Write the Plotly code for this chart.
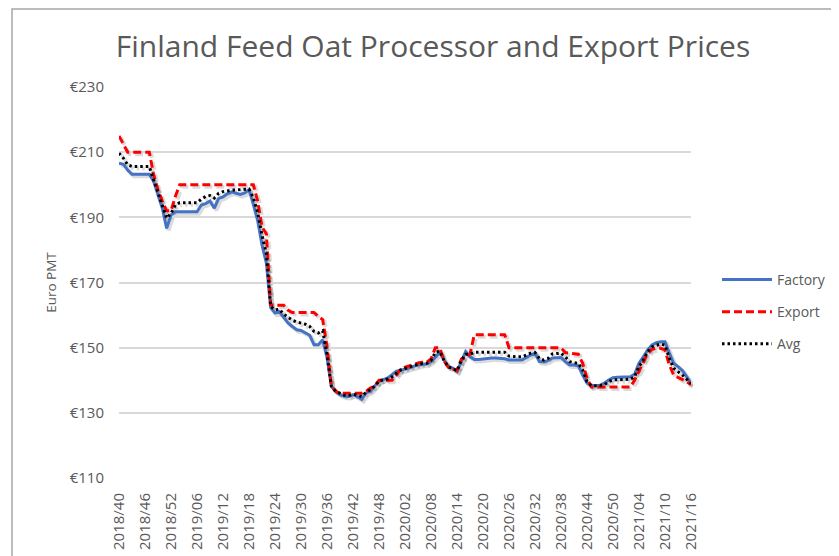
import plotly.graph_objects as go

# Weekly categories 2018/40 .. 2021/16 (52-week years as in the source)
weeks = []
for y, w0, w1 in [(2018, 40, 52), (2019, 1, 52), (2020, 1, 52), (2021, 1, 16)]:
    for w in range(w0, w1 + 1):
        weeks.append(f"{y}/{w:02d}")

tick_labels = ["2018/40", "2018/46", "2018/52", "2019/06", "2019/12", "2019/18",
               "2019/24", "2019/30", "2019/36", "2019/42", "2019/48", "2020/02",
               "2020/08", "2020/14", "2020/20", "2020/26", "2020/32", "2020/38",
               "2020/44", "2020/50", "2021/04", "2021/10", "2021/16"]

factory = [206.6, 206.3, 204.5, 203.2, 203.2, 203.2, 203.2, 203.2, 201.0, 196.5,
           192.8, 186.6, 190.7, 191.7, 191.7, 191.7, 191.7, 191.7, 191.7, 193.8,
           194.2, 195.0, 192.8, 195.8, 196.3, 197.2, 197.8, 197.4, 197.0, 197.5,
           198.5, 194.0, 189.0, 181.5, 176.0, 162.3, 160.6, 161.0, 159.1, 157.6,
           156.5, 155.5, 155.3, 154.5, 153.8, 150.9, 150.9, 152.4, 147.0, 138.2,
           136.6, 135.6, 135.1, 135.0, 135.6, 135.0, 134.1, 136.1, 136.6, 138.2,
           139.7, 140.2, 140.7, 141.7, 142.8, 143.0, 143.4, 143.9, 144.4, 144.7,
           144.9, 145.0, 145.7, 147.2, 148.5, 146.2, 144.2, 143.7, 142.7, 145.7,
           148.8, 147.2, 146.4, 146.4, 146.6, 146.7, 146.8, 146.8, 146.8, 146.6,
           146.2, 146.2, 146.2, 146.2, 147.0, 147.8, 148.3, 145.7, 145.6, 146.0,
           146.8, 147.0, 147.0, 145.7, 144.7, 144.7, 144.4, 141.6, 139.1, 138.5,
           138.3, 138.5, 139.1, 140.1, 140.8, 140.9, 140.9, 141.0, 141.1, 141.9,
           145.2, 147.2, 149.3, 150.8, 151.5, 151.8, 151.8, 148.3, 145.2, 144.2,
           143.0, 141.1, 139.1]

export = [215.0, 212.5, 210.0, 210.0, 210.0, 210.0, 210.0, 210.0, 203.0, 198.4,
          195.0, 192.0, 192.0, 196.4, 200.0, 200.0, 200.0, 200.0, 200.0, 200.0,
          200.0, 200.0, 200.0, 200.0, 200.0, 200.0, 200.0, 200.0, 200.0, 200.0,
          200.0, 200.0, 195.0, 187.0, 185.0, 163.2, 163.0, 163.0, 163.0, 161.5,
          160.8, 160.8, 160.8, 160.8, 160.8, 160.8, 159.6, 158.6, 150.4, 138.2,
          136.6, 136.0, 136.0, 136.0, 136.0, 136.0, 136.0, 136.6, 137.6, 138.2,
          140.0, 140.0, 140.0, 140.0, 141.5, 143.5, 144.0, 144.5, 145.0, 145.3,
          145.5, 145.5, 146.5, 150.0, 150.0, 146.0, 144.0, 143.5, 143.0, 146.5,
          147.0, 148.0, 154.0, 154.0, 154.0, 154.0, 154.0, 154.0, 154.0, 154.0,
          150.0, 150.0, 150.0, 150.0, 150.0, 150.0, 150.0, 150.0, 150.0, 150.0,
          150.0, 150.0, 150.0, 148.5, 148.3, 148.3, 148.0, 145.2, 140.6, 137.9,
          137.9, 137.9, 137.9, 137.9, 137.9, 137.9, 137.9, 137.9, 137.9, 140.1,
          142.7, 145.7, 148.3, 149.5, 149.8, 149.8, 149.3, 144.7, 141.6, 140.9,
          140.3, 139.6, 138.6]

avg = [209.7, 208.2, 206.1, 205.6, 205.6, 205.6, 205.6, 205.6, 201.5, 197.4,
       193.8, 189.7, 191.2, 193.8, 194.5, 194.5, 194.5, 194.5, 194.5, 195.6,
       196.4, 196.7, 195.9, 197.4, 197.9, 198.1, 198.4, 198.4, 198.4, 198.6,
       198.7, 196.0, 191.5, 184.5, 179.0, 162.7, 161.6, 161.8, 160.3, 159.2,
       158.4, 157.9, 157.6, 157.2, 156.5, 155.0, 154.5, 155.2, 148.0, 138.2,
       136.6, 135.9, 135.4, 135.3, 135.7, 135.4, 135.0, 136.3, 137.1, 138.2,
       139.8, 140.1, 140.4, 141.0, 142.0, 143.2, 143.6, 144.1, 144.6, 144.9,
       145.1, 145.2, 146.1, 148.5, 149.0, 146.1, 144.1, 143.6, 142.9, 146.1,
       148.0, 148.0, 148.6, 148.6, 148.6, 148.6, 148.6, 148.6, 148.6, 148.6,
       147.4, 147.2, 147.2, 147.2, 147.8, 148.3, 148.5, 146.7, 146.2, 146.7,
       148.1, 148.3, 148.3, 147.2, 145.7, 145.4, 145.2, 143.2, 139.6, 138.3,
       138.3, 138.3, 138.6, 139.6, 140.1, 140.1, 140.1, 140.1, 140.3, 141.1,
       144.2, 146.2, 148.8, 150.3, 150.8, 151.1, 150.8, 146.7, 143.7, 142.7,
       141.6, 140.3, 138.9]

y_ticks = [110, 130, 150, 170, 190, 210, 230]
y_tick_text = ["€110", "€130", "€150", "€170", "€190", "€210", "€230"]

FONT = "Open Sans"
GREY = "#595959"

# page body has an 8px margin; offsets below compensate for it
OFF = 8
PL, PR, PT, PB = 119, 691, 87, 478.3
PW, PH = PR - PL, PB - PT
SH = 2.0                      # shadow offset in px
W, H = PW + SH, PH + SH       # extended area holding plot + shadow subplot


def px_x(px):
    return (px - PL) / W


def px_y(py):
    return (PB + SH - py) / H


series = [
    ("Factory", factory, dict(color="#4472C4", width=3)),
    ("Export", export, dict(color="#FF0000", width=3, dash="8px,4px")),
    ("Avg", avg, dict(color="#000000", width=3, dash="2.5px,3px")),
]

fig = go.Figure()
# soft drop shadows (drawn on an offset copy of the axes)
for name, vals, ln in series:
    fig.add_trace(go.Scatter(x=weeks, y=vals, mode="lines", showlegend=False,
                             hoverinfo="skip", xaxis="x", yaxis="y",
                             line=dict(color="rgba(0,0,0,0.14)", width=4,
                                       dash=ln.get("dash", "solid"))))
for name, vals, ln in series:
    fig.add_trace(go.Scatter(x=weeks, y=vals, name=name, mode="lines",
                             legendgroup=name, xaxis="x2", yaxis="y2", line=ln))

common_x = dict(type="category", categoryorder="array", categoryarray=weeks,
                range=[0, len(weeks) - 1], showgrid=False, showline=False,
                zeroline=False, automargin=False)

fig.update_layout(
    width=839, height=556,
    margin=dict(l=PL - OFF, r=839 - (PL + W - OFF), t=PT - OFF,
                b=556 - (PT + H - OFF), pad=0, autoexpand=False),
    paper_bgcolor="white", plot_bgcolor="rgba(0,0,0,0)",
    font=dict(family=FONT, color=GREY, size=15),
    title=dict(text="Finland Feed Oat Processor and Export Prices",
               xref="paper", x=px_x(433), xanchor="center",
               yref="container", y=1 - (46 - OFF) / 556, yanchor="middle",
               font=dict(family=FONT, size=30, color=GREY)),
    showlegend=True,
    legend=dict(x=px_x(717), xanchor="left",
                y=px_y(264), yanchor="top",
                font=dict(family=FONT, size=14, color=GREY),
                tracegroupgap=11, itemwidth=50,
                bgcolor="rgba(0,0,0,0)"),
    xaxis=dict(common_x, domain=[SH / W, 1], anchor="y", showticklabels=False,
               ticks=""),
    yaxis=dict(range=[110, 230], domain=[0, PH / H], anchor="x",
               showticklabels=False, showgrid=False, zeroline=False,
               showline=False, ticks="", automargin=False),
    xaxis2=dict(common_x, domain=[0, PW / W], anchor="y2",
                tickmode="array", tickvals=tick_labels, ticktext=tick_labels,
                tickangle=-90, ticks="", tickfont=dict(size=15, color=GREY),
                ticklabelstandoff=11),
    yaxis2=dict(range=[110, 230], domain=[SH / H, 1], anchor="x2",
                tickmode="array", tickvals=y_ticks, ticktext=y_tick_text,
                ticks="", showgrid=True, gridcolor="#d9d9d9", gridwidth=1.5,
                zeroline=False, showline=False,
                tickfont=dict(size=15, color=GREY), ticklabelstandoff=14,
                automargin=False,
                title=dict(text="Euro PMT", font=dict(size=13.5, color=GREY),
                           standoff=9)),
    shapes=[dict(type="rect", xref="paper", yref="paper",
                 x0=px_x(12), x1=1.6, y0=-0.6, y1=px_y(9),
                 line=dict(color="#a6a6a6", width=1.5), fillcolor="rgba(0,0,0,0)",
                 layer="below")],
)

fig.write_html("out.html")
